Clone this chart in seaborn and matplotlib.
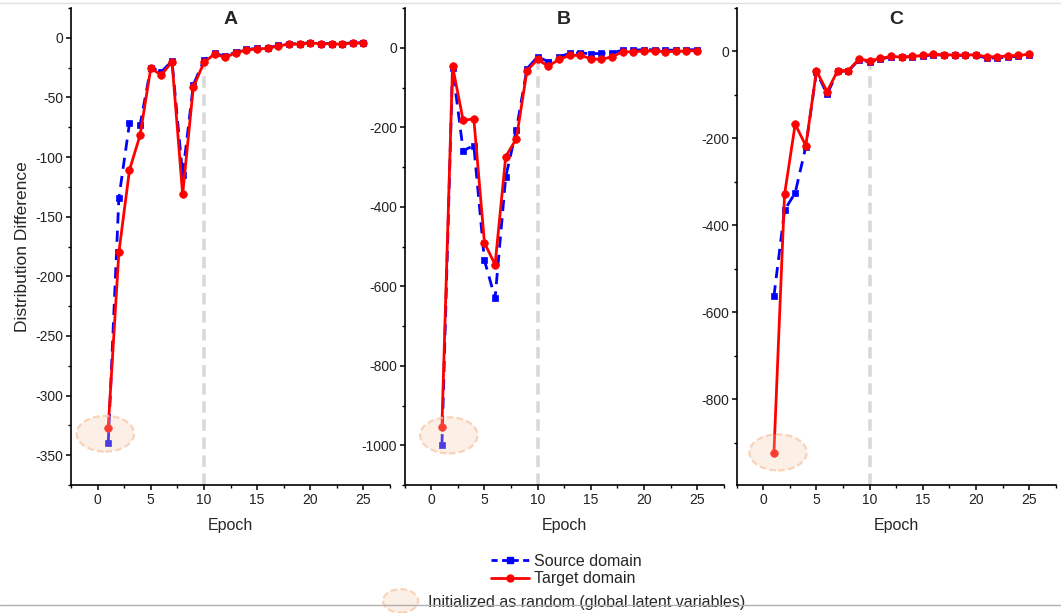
import matplotlib
matplotlib.use("Agg")
import matplotlib.pyplot as plt
import seaborn as sns
import numpy as np
from matplotlib.patches import Ellipse
from matplotlib.lines import Line2D
from matplotlib.legend_handler import HandlerPatch
from matplotlib.ticker import MultipleLocator

# ---------------- data ----------------
epochs = list(range(1, 26))

panel_titles = ["A", "B", "C"]

source_A = [-340, -134.5, -71.7, -73, -25, -28.5, -19.5, -115, -39.6, -18.7, -13, -15.5, -12,
            -9.8, -8.8, -8.5, -6.3, -5, -5, -4, -4.8, -4.8, -5, -4, -4.3]
target_A = [-327, -180, -110.8, -81.5, -25.6, -31.2, -20.1, -131.2, -41.6, -20.6, -13.6, -16.4,
            -12.5, -10.3, -9.2, -8.9, -6.7, -5.3, -5.3, -4.2, -5, -5, -5.3, -4.2, -4.5]

source_B = [-1000, -50.5, -259, -246, -535, -630, -325, -206, -53, -22.7, -35, -22.7, -14.4,
            -13, -15, -14.4, -13, -6, -6, -5, -5, -6, -6, -5, -5]
target_B = [-954, -46.5, -183, -178.5, -491, -545.5, -273.7, -229, -57.3, -29.5, -46.5, -29.5,
            -19.4, -18.6, -27.8, -29.5, -22.7, -10.1, -10.1, -8, -8, -10, -9, -8, -7]

source_C = [-563, -365, -325, -219, -47, -98, -46, -45, -19, -24, -17, -13, -13, -12, -10,
            -8, -8, -9, -9, -9, -15, -15, -13, -11, -8]
target_C = [-924, -328.6, -167.3, -216.6, -44.5, -92.2, -43.8, -43.8, -17.5, -21.4, -16.1,
            -11.5, -12.6, -11.5, -9.2, -6.9, -7.6, -8, -8, -7.6, -12.2, -12.2, -10, -9.2, -6]

source_series = [source_A, source_B, source_C]
target_series = [target_A, target_B, target_C]

switch_epoch = 10
source_label = "Source domain"
target_label = "Target domain"
ellipse_label = "Initialized as random (global latent variables)"

# ---------------- style ----------------
sns.set_style("ticks")
plt.rcParams["font.family"] = ["Liberation Sans", "DejaVu Sans"]
plt.rcParams["axes.unicode_minus"] = False

W, H = 1061, 613
fig = plt.figure(figsize=(W / 100, H / 100), dpi=100)

def fx(px):
    return px / W

def fy(py):
    return 1 - py / H

# axes geometry (pixels)
ax_lefts = [71, 404.7, 736.7]
ax_width = 319
ax_top, ax_bottom = 8, 485
ylims = [(-375, 25), (-1100, 100), (-997, 100)]
ymajor = [50, 200, 200]
yminor = [25, 100, 100]
# ellipse annotation (center epoch, center value, width epochs, height value)
ellipse_specs = [(0.73, -332, 5.4, 30), (1.65, -975, 5.4, 91), (1.39, -922, 5.4, 83)]

blue = "#0000ff"
red = "#ff0000"
ell_face = (0.97, 0.80, 0.68, 0.30)
ell_edge = (0.97, 0.78, 0.65, 0.75)

axes = []
for i in range(3):
    ax = fig.add_axes([fx(ax_lefts[i]), fy(ax_bottom), fx(ax_width), (ax_bottom - ax_top) / H])
    axes.append(ax)
    ax.set_facecolor("white")

    # vertical reference line at the switch epoch, up to the target curve
    ax.vlines(switch_epoch, ylims[i][0], target_series[i][switch_epoch - 1],
              colors="#d9d9d9", linewidth=2.6, linestyles=(0, (3.2, 1.8)), zorder=1)

    sns.lineplot(x=epochs, y=source_series[i], ax=ax, color=blue, linewidth=2.0,
                 linestyle=(0, (4, 2.6)), marker="s", markersize=5,
                 markeredgecolor=blue, markeredgewidth=0.5, zorder=3)
    sns.lineplot(x=epochs, y=target_series[i], ax=ax, color=red, linewidth=2.0,
                 marker="o", markersize=5.5, markeredgecolor=red,
                 markeredgewidth=0.5, zorder=4)

    cx, cy, ew, eh = ellipse_specs[i]
    ax.add_patch(Ellipse((cx, cy), ew, eh, facecolor=ell_face, edgecolor=ell_edge,
                         linestyle=(0, (3, 1.5)), linewidth=1.6, zorder=5))

    ax.set_xlim(-2.5, 27.5)
    ax.set_ylim(*ylims[i])
    ax.xaxis.set_major_locator(MultipleLocator(5))
    ax.xaxis.set_minor_locator(MultipleLocator(2.5))
    ax.yaxis.set_major_locator(MultipleLocator(ymajor[i]))
    ax.yaxis.set_minor_locator(MultipleLocator(yminor[i]))
    ax.tick_params(axis="both", which="major", direction="out", length=3.5, width=1.1,
                   labelsize=10, color="black", labelcolor="#222222", pad=2)
    ax.tick_params(axis="both", which="minor", direction="out", length=2.5, width=1.0,
                   color="black")
    for side in ["top", "right"]:
        ax.spines[side].set_visible(False)
    for side in ["left", "bottom"]:
        ax.spines[side].set_linewidth(1.2)
        ax.spines[side].set_color("black")
    ax.grid(False)
    ax.set_xlabel("Epoch", fontsize=11.5, labelpad=8)
    ax.set_ylabel("")
    ax.text(0.5, 0.975, panel_titles[i], transform=ax.transAxes, ha="center", va="center",
            fontsize=14, fontweight="bold")

axes[0].set_ylabel("Distribution Difference", fontsize=12.5, labelpad=4)

# ---------------- legends ----------------
h_src = Line2D([], [], color=blue, linewidth=2.0, linestyle=(0, (2.2, 1.6)), marker="s",
               markersize=5, markeredgecolor=blue)
h_tgt = Line2D([], [], color=red, linewidth=2.0, marker="o", markersize=5,
               markeredgecolor=red)
leg1 = fig.legend([h_src, h_tgt], [source_label, target_label], loc="center left",
                  bbox_to_anchor=(fx(491), fy(570)), frameon=False, fontsize=11.5,
                  handlelength=2.4, handletextpad=0.3, labelspacing=0.15,
                  borderaxespad=0, borderpad=0)

def make_ellipse(legend, orig_handle, xdescent, ydescent, width, height, fontsize):
    return Ellipse((width / 2 - xdescent, height / 2 - ydescent), width, height * 2.1)

h_ell = Ellipse((0, 0), 1, 1, facecolor=ell_face, edgecolor=ell_edge,
                linestyle=(0, (3, 1.5)), linewidth=1.6)
leg2 = fig.legend([h_ell], [ellipse_label], loc="center left",
                  bbox_to_anchor=(fx(383), fy(602)), frameon=False, fontsize=11.5,
                  handlelength=2.2, handletextpad=0.6, borderaxespad=0, borderpad=0,
                  handler_map={Ellipse: HandlerPatch(patch_func=make_ellipse)})

# page rules seen in the reference
fig.add_artist(Line2D([0, 1], [fy(3), fy(3)], transform=fig.transFigure,
                      color="#e0e0e0", linewidth=1))
fig.add_artist(Line2D([0, 1], [fy(604.5), fy(604.5)], transform=fig.transFigure,
                      color="#b0b0b0", linewidth=1, zorder=10))

fig.savefig("out.png", dpi=100, facecolor="white")
